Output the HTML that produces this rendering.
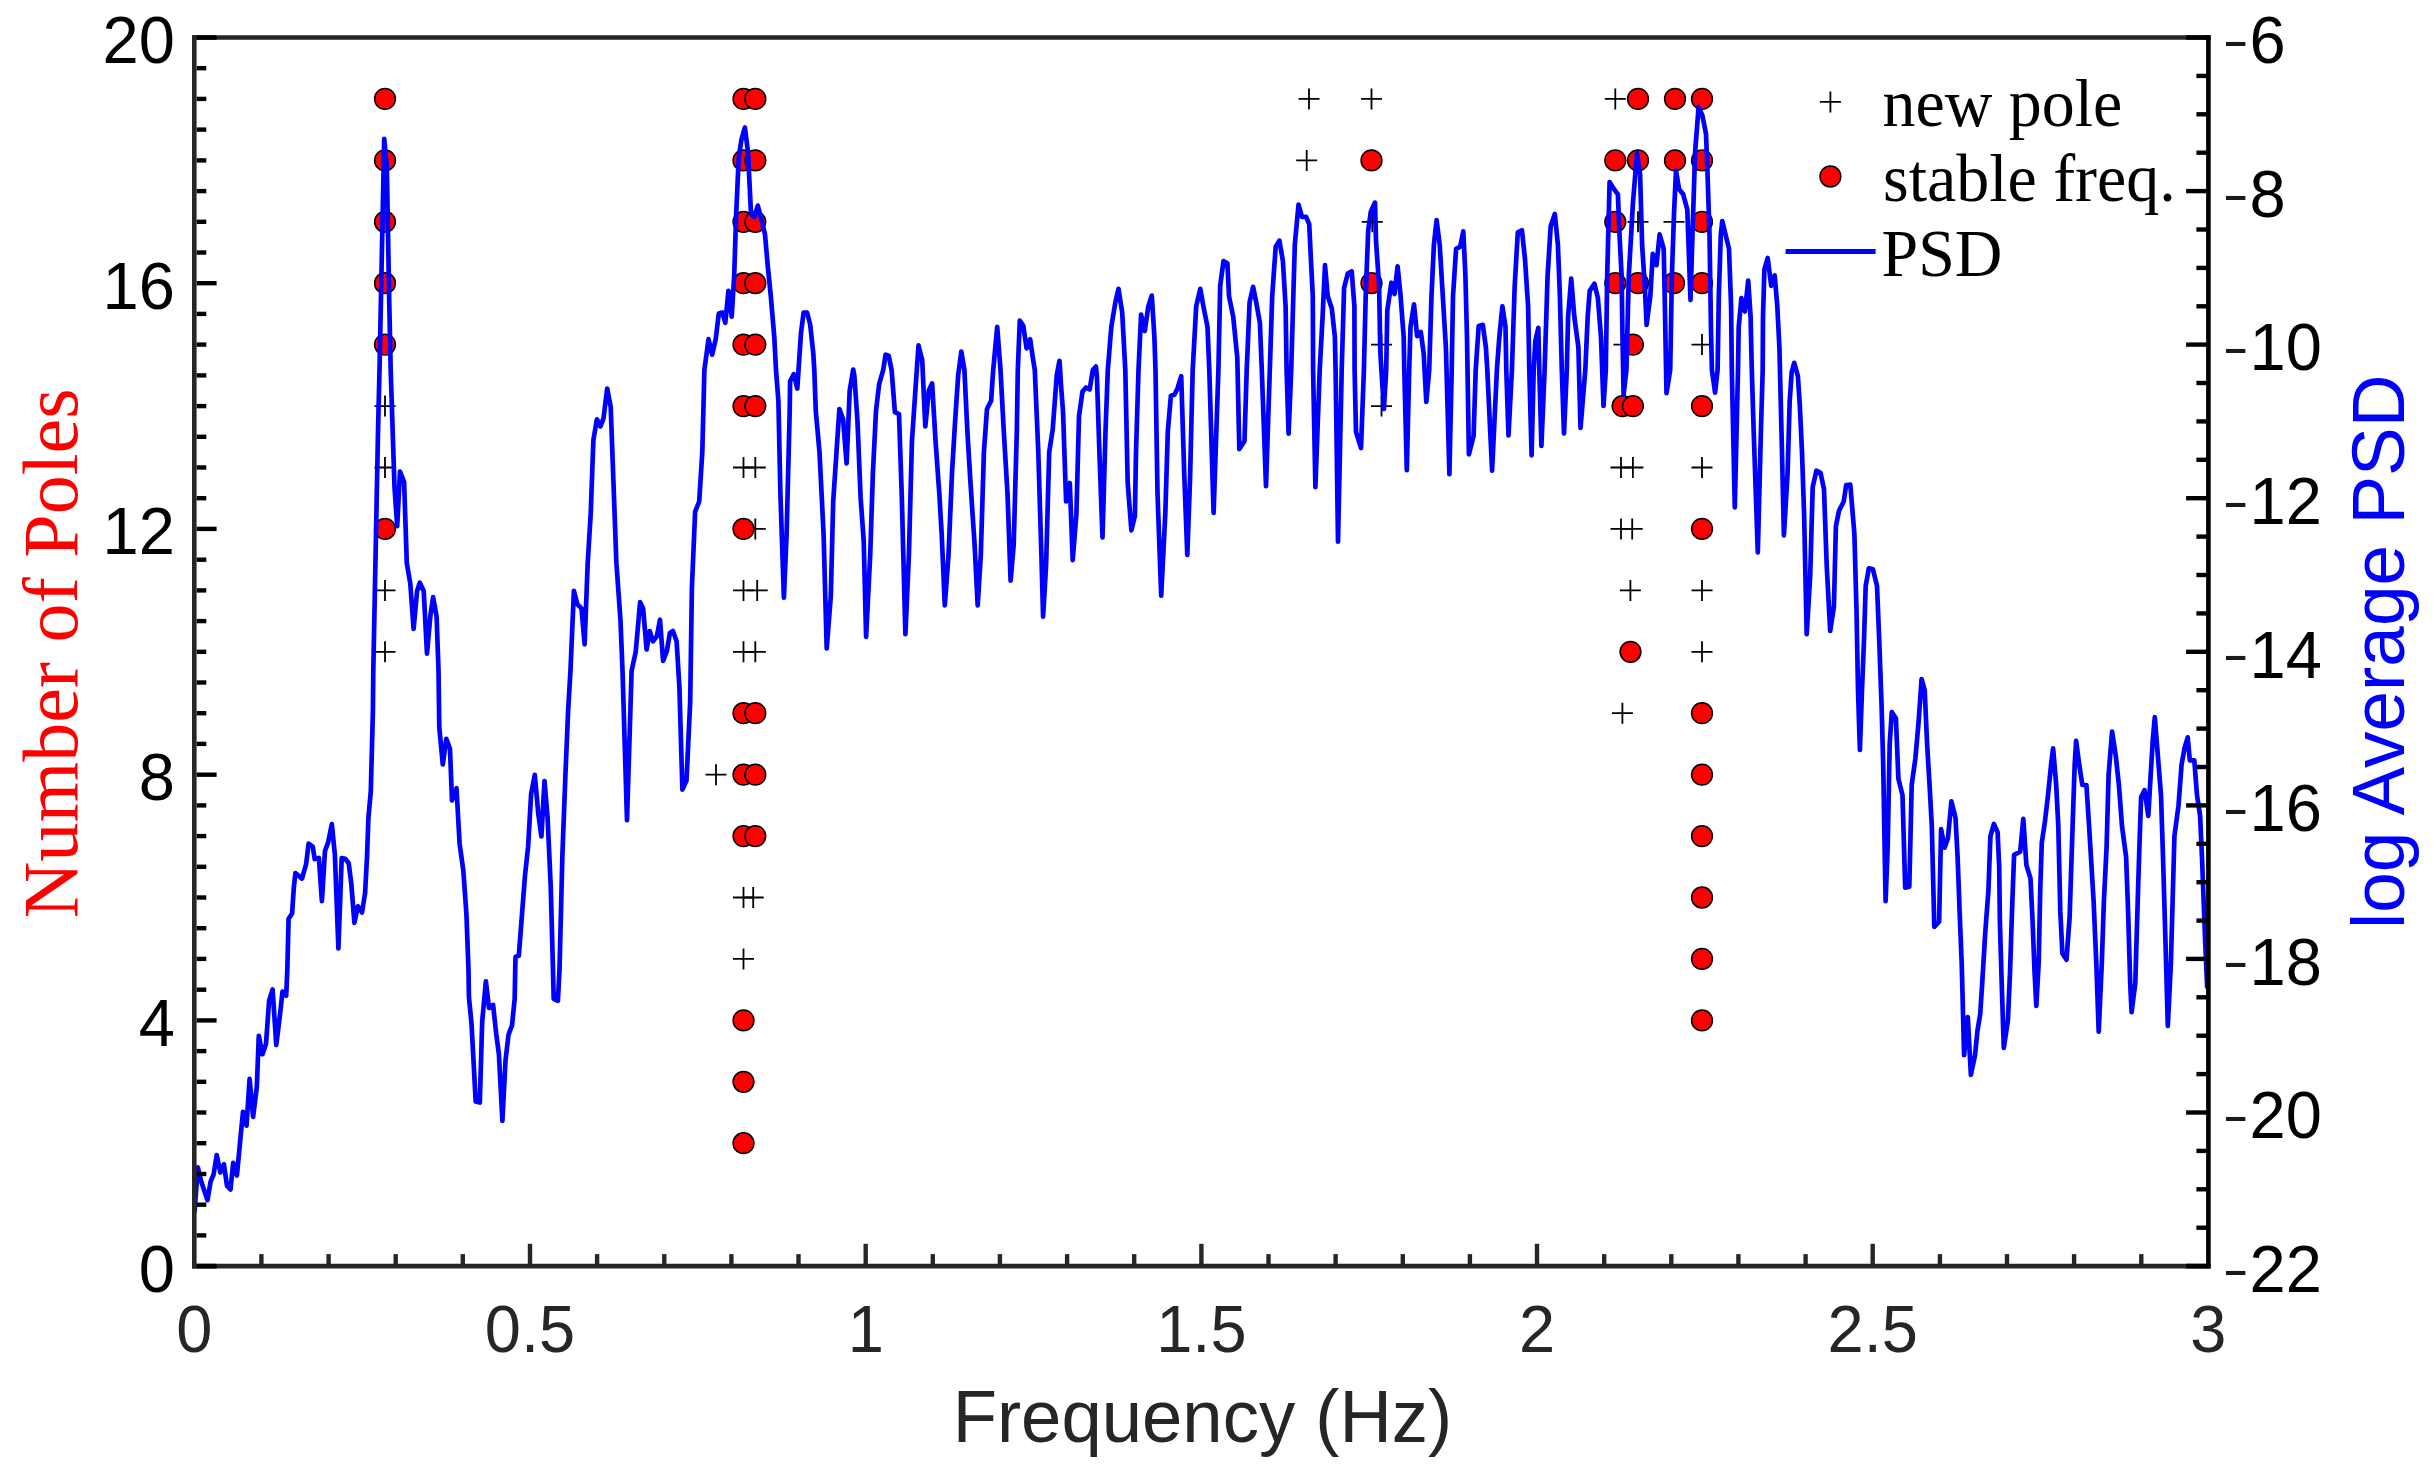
<!DOCTYPE html>
<html lang="en"><head><meta charset="utf-8"><title>Stabilization diagram</title>
<style>html,body{margin:0;padding:0;background:#fff;overflow:hidden}svg{display:block}.sans{font-family:"Liberation Sans",Arial,Helvetica,sans-serif}.serif{font-family:"Liberation Serif","Times New Roman",Times,serif}</style></head><body>
<svg width="2433" height="1477" viewBox="0 0 2433 1477">
<rect width="2433" height="1477" fill="#fff"/>
<g stroke="#000" stroke-width="1.8" fill="none">
<path d="M374.5 406.1H395.5M385.0 395.6V416.6"/>
<path d="M374.5 467.5H395.5M385.0 457.0V478.0"/>
<path d="M374.5 590.4H395.5M385.0 579.9V600.9"/>
<path d="M374.5 651.8H395.5M385.0 641.3V662.3"/>
<path d="M733.0 467.5H754.0M743.5 457.0V478.0"/>
<path d="M733.0 590.4H754.0M743.5 579.9V600.9"/>
<path d="M733.0 651.8H754.0M743.5 641.3V662.3"/>
<path d="M733.0 897.5H754.0M743.5 887.0V908.0"/>
<path d="M733.0 958.9H754.0M743.5 948.4V969.4"/>
<path d="M744.8 467.5H765.8M755.3 457.0V478.0"/>
<path d="M744.8 528.9H765.8M755.3 518.4V539.4"/>
<path d="M746.7 590.4H767.7M757.2 579.9V600.9"/>
<path d="M744.8 651.8H765.8M755.3 641.3V662.3"/>
<path d="M742.7 897.5H763.7M753.2 887.0V908.0"/>
<path d="M705.5 774.7H726.5M716.0 764.2V785.2"/>
<path d="M1298.5 98.9H1319.5M1309.0 88.4V109.4"/>
<path d="M1296.2 160.4H1317.2M1306.7 149.9V170.9"/>
<path d="M1361.0 98.9H1382.0M1371.5 88.4V109.4"/>
<path d="M1361.8 221.8H1382.8M1372.3 211.3V232.3"/>
<path d="M1371.0 344.6H1392.0M1381.5 334.1V355.1"/>
<path d="M1371.0 406.1H1392.0M1381.5 395.6V416.6"/>
<path d="M1604.8 98.9H1625.8M1615.3 88.4V109.4"/>
<path d="M1613.5 344.6H1634.5M1624.0 334.1V355.1"/>
<path d="M1610.5 467.5H1631.5M1621.0 457.0V478.0"/>
<path d="M1610.5 528.9H1631.5M1621.0 518.4V539.4"/>
<path d="M1611.9 713.2H1632.9M1622.4 702.7V723.7"/>
<path d="M1627.5 221.8H1648.5M1638.0 211.3V232.3"/>
<path d="M1622.4 467.5H1643.4M1632.9 457.0V478.0"/>
<path d="M1621.7 528.9H1642.7M1632.2 518.4V539.4"/>
<path d="M1619.9 590.4H1640.9M1630.4 579.9V600.9"/>
<path d="M1663.5 221.8H1684.5M1674.0 211.3V232.3"/>
<path d="M1691.5 344.6H1712.5M1702.0 334.1V355.1"/>
<path d="M1691.5 467.5H1712.5M1702.0 457.0V478.0"/>
<path d="M1691.5 590.4H1712.5M1702.0 579.9V600.9"/>
<path d="M1691.5 651.8H1712.5M1702.0 641.3V662.3"/>
</g>
<g stroke="#000" stroke-width="1.5" fill="#ff0000">
<circle cx="385.0" cy="98.9" r="10.4"/>
<circle cx="385.0" cy="160.4" r="10.4"/>
<circle cx="385.0" cy="221.8" r="10.4"/>
<circle cx="385.0" cy="283.2" r="10.4"/>
<circle cx="385.0" cy="344.6" r="10.4"/>
<circle cx="385.0" cy="528.9" r="10.4"/>
<circle cx="743.5" cy="98.9" r="10.4"/>
<circle cx="743.5" cy="160.4" r="10.4"/>
<circle cx="743.5" cy="221.8" r="10.4"/>
<circle cx="743.5" cy="283.2" r="10.4"/>
<circle cx="743.5" cy="344.6" r="10.4"/>
<circle cx="743.5" cy="406.1" r="10.4"/>
<circle cx="743.5" cy="528.9" r="10.4"/>
<circle cx="743.5" cy="713.2" r="10.4"/>
<circle cx="743.5" cy="774.7" r="10.4"/>
<circle cx="743.5" cy="836.1" r="10.4"/>
<circle cx="743.5" cy="1020.4" r="10.4"/>
<circle cx="743.5" cy="1081.8" r="10.4"/>
<circle cx="743.5" cy="1143.2" r="10.4"/>
<circle cx="755.3" cy="98.9" r="10.4"/>
<circle cx="755.3" cy="160.4" r="10.4"/>
<circle cx="755.3" cy="221.8" r="10.4"/>
<circle cx="755.3" cy="283.2" r="10.4"/>
<circle cx="755.3" cy="344.6" r="10.4"/>
<circle cx="755.3" cy="406.1" r="10.4"/>
<circle cx="755.3" cy="713.2" r="10.4"/>
<circle cx="755.3" cy="774.7" r="10.4"/>
<circle cx="755.3" cy="836.1" r="10.4"/>
<circle cx="1371.5" cy="160.4" r="10.4"/>
<circle cx="1371.5" cy="283.2" r="10.4"/>
<circle cx="1615.3" cy="160.4" r="10.4"/>
<circle cx="1615.3" cy="221.8" r="10.4"/>
<circle cx="1615.3" cy="283.2" r="10.4"/>
<circle cx="1622.6" cy="406.1" r="10.4"/>
<circle cx="1638.0" cy="98.9" r="10.4"/>
<circle cx="1638.0" cy="160.4" r="10.4"/>
<circle cx="1638.0" cy="283.2" r="10.4"/>
<circle cx="1632.9" cy="344.6" r="10.4"/>
<circle cx="1632.9" cy="406.1" r="10.4"/>
<circle cx="1630.5" cy="651.8" r="10.4"/>
<circle cx="1675.0" cy="98.9" r="10.4"/>
<circle cx="1675.0" cy="160.4" r="10.4"/>
<circle cx="1674.0" cy="283.2" r="10.4"/>
<circle cx="1702.0" cy="98.9" r="10.4"/>
<circle cx="1702.0" cy="160.4" r="10.4"/>
<circle cx="1702.0" cy="221.8" r="10.4"/>
<circle cx="1702.0" cy="283.2" r="10.4"/>
<circle cx="1702.0" cy="406.1" r="10.4"/>
<circle cx="1702.0" cy="528.9" r="10.4"/>
<circle cx="1702.0" cy="713.2" r="10.4"/>
<circle cx="1702.0" cy="774.7" r="10.4"/>
<circle cx="1702.0" cy="836.1" r="10.4"/>
<circle cx="1702.0" cy="897.5" r="10.4"/>
<circle cx="1702.0" cy="958.9" r="10.4"/>
<circle cx="1702.0" cy="1020.4" r="10.4"/>
</g>
<polyline points="194.5,1212.5 197.8,1167.3 201.3,1181.7 207.5,1200.2 210.6,1181.7 213.6,1174.5 216.7,1155.0 220.4,1172.4 223.9,1164.2 227.0,1185.8 230.5,1189.5 233.2,1162.8 236.9,1175.5 240.4,1138.5 243.0,1111.8 246.5,1125.6 249.6,1078.9 253.1,1116.9 256.8,1087.1 258.8,1035.8 262.5,1054.3 266.0,1044.0 269.1,1000.8 272.6,989.5 276.3,1045.0 280.4,1011.1 282.5,991.6 286.2,995.7 287.3,970.0 288.6,918.7 292.1,913.5 293.8,887.8 295.4,873.0 302.0,878.6 306.1,864.2 308.6,843.7 312.7,846.7 314.7,859.1 318.9,858.0 321.9,901.2 325.0,850.8 328.1,842.6 331.8,824.1 334.9,855.0 338.4,948.5 341.7,858.0 345.2,858.7 348.7,863.2 351.3,883.7 354.4,922.8 357.9,906.3 362.0,912.5 365.1,893.0 367.1,855.0 368.4,818.0 370.8,791.2 372.9,711.1 373.3,670.0 376.0,534.4 378.0,431.7 379.5,370.0 384.2,138.8 386.8,166.0 389.2,300.0 390.7,370.0 391.4,392.0 394.5,487.1 397.2,526.2 400.0,471.7 404.1,482.0 406.8,563.2 410.3,583.7 413.6,628.9 417.1,590.9 419.8,582.7 423.7,590.9 427.0,653.6 430.4,615.6 433.1,597.1 436.6,616.6 438.5,670.0 439.3,727.5 442.8,764.5 446.3,738.8 450.0,749.1 452.0,800.5 456.5,788.2 459.6,843.7 463.3,870.4 466.4,913.5 468.5,970.0 468.9,996.7 471.5,1023.4 475.7,1101.5 479.8,1102.6 482.2,1021.4 485.9,981.3 489.0,1008.0 493.1,1005.0 496.2,1033.7 498.9,1054.3 502.4,1121.0 505.5,1060.4 508.5,1034.7 512.0,1025.5 514.7,998.8 515.3,965.0 515.6,956.7 518.8,955.7 521.5,920.7 525.0,875.5 528.1,846.7 531.1,794.3 534.8,774.8 538.3,813.9 541.4,836.5 544.5,781.0 547.6,818.0 550.7,885.8 553.0,970.0 553.7,998.8 557.9,1000.8 559.5,970.0 562.4,855.0 565.5,772.8 568.1,711.1 570.5,670.0 573.9,590.9 577.4,604.3 581.5,608.4 584.6,644.3 587.7,563.2 590.7,513.9 593.4,439.9 596.9,419.3 600.4,426.5 603.5,418.3 607.2,388.5 610.7,407.0 613.7,489.2 616.4,563.2 620.5,620.7 622.5,670.0 627.0,820.1 631.6,670.8 635.7,652.0 640.1,602.2 643.1,608.4 646.6,649.5 649.7,631.0 653.0,641.3 656.9,636.1 660.0,619.7 663.1,660.8 666.8,651.5 669.9,633.0 672.9,631.0 676.6,641.3 679.4,687.0 682.4,789.6 686.5,780.5 690.2,701.3 691.9,588.0 695.1,511.8 699.2,501.5 702.3,452.2 704.4,370.0 708.5,339.2 712.2,354.6 715.7,339.2 718.8,313.5 722.3,312.5 725.3,322.8 728.4,290.9 731.7,316.6 734.2,275.5 736.2,213.9 738.7,158.4 741.4,139.9 744.9,127.5 748.0,152.2 751.0,213.9 754.3,216.9 757.8,205.6 761.5,220.0 765.0,234.4 767.7,265.2 770.8,296.1 774.3,337.2 776.0,370.0 778.4,400.8 780.4,493.3 783.9,597.7 786.6,534.4 789.7,411.1 790.1,381.3 793.8,374.1 797.3,388.5 798.5,370.0 801.0,333.0 803.6,312.5 807.1,312.5 810.2,324.8 813.3,353.6 814.3,370.0 815.8,411.1 819.5,452.2 823.6,534.4 826.7,648.5 830.8,596.1 833.2,501.5 836.5,452.2 839.4,409.0 843.1,419.3 846.6,463.5 849.7,390.6 853.2,369.5 854.4,376.2 857.5,421.4 860.6,497.4 863.7,540.6 866.1,636.8 870.2,555.0 872.9,472.8 876.0,411.1 879.1,384.4 883.2,370.0 885.6,354.6 888.7,355.7 891.6,370.0 894.9,412.1 899.0,414.2 901.7,493.3 905.4,634.1 908.9,555.0 911.9,441.9 916.1,380.0 918.5,345.4 922.2,360.0 925.3,426.5 928.8,390.6 932.1,383.4 935.6,441.9 939.3,493.3 941.7,534.4 944.8,605.3 948.5,555.0 952.0,472.8 955.1,421.4 958.2,375.0 961.3,351.5 964.4,370.0 967.4,431.7 970.5,483.0 974.6,544.7 977.7,605.3 980.8,555.0 983.9,452.2 987.0,409.0 991.1,400.8 993.2,370.0 997.2,326.9 1000.5,370.0 1003.8,431.7 1007.5,493.3 1010.6,580.6 1013.7,544.7 1016.8,431.7 1017.8,370.0 1019.8,320.7 1023.3,325.9 1026.6,348.5 1030.1,339.2 1032.8,357.7 1034.8,370.0 1038.3,452.2 1041.4,555.0 1043.1,616.6 1046.1,565.2 1049.2,452.2 1052.7,429.6 1056.8,375.0 1059.5,360.8 1061.0,385.0 1063.0,411.1 1066.1,501.5 1069.8,483.0 1072.7,560.1 1076.4,513.9 1079.0,416.2 1082.5,391.6 1086.0,387.5 1089.7,389.5 1092.8,370.0 1095.9,366.5 1096.9,376.2 1099.4,452.2 1102.5,537.5 1105.5,431.7 1107.8,370.0 1111.3,326.9 1115.4,302.2 1118.5,288.9 1122.2,312.5 1125.3,370.0 1127.7,483.0 1131.4,530.3 1134.9,515.9 1136.0,452.2 1138.5,370.0 1141.1,314.6 1144.8,331.0 1148.3,306.3 1151.8,295.6 1154.4,337.2 1155.5,370.0 1157.5,493.3 1161.2,595.6 1165.3,513.9 1167.8,431.7 1170.9,395.7 1174.4,394.7 1177.5,388.5 1181.2,376.2 1184.2,472.8 1187.3,555.0 1190.0,480.0 1192.7,370.0 1196.2,306.3 1200.3,288.9 1203.4,306.3 1207.5,326.9 1209.3,370.0 1213.6,512.8 1218.4,370.0 1220.2,285.8 1223.5,261.1 1227.4,263.2 1229.0,296.1 1233.2,316.6 1237.3,357.7 1239.3,449.1 1244.5,440.9 1246.7,370.0 1249.6,302.2 1253.1,286.8 1256.2,302.2 1259.9,322.8 1261.8,370.0 1266.0,486.1 1269.8,370.0 1272.2,296.1 1275.7,246.7 1279.4,240.6 1282.9,261.1 1285.6,306.3 1286.6,370.0 1288.6,433.7 1291.2,370.0 1294.8,244.7 1298.5,204.6 1302.0,216.9 1306.1,216.9 1309.2,224.1 1311.2,265.2 1312.8,296.1 1313.1,370.0 1315.4,487.1 1319.7,370.0 1322.6,316.6 1325.0,265.2 1327.7,296.1 1331.8,308.4 1334.9,337.2 1335.6,370.0 1338.0,541.6 1341.7,370.0 1344.1,287.8 1347.8,273.5 1351.7,271.4 1354.4,306.3 1354.6,370.0 1356.0,431.7 1361.0,448.1 1363.9,370.0 1365.7,296.1 1368.2,230.3 1370.8,211.8 1375.0,202.6 1376.0,240.6 1379.1,285.8 1380.3,352.0 1383.9,409.0 1386.2,370.0 1387.3,310.4 1391.4,282.7 1394.5,294.0 1397.6,266.3 1400.6,296.1 1403.7,337.2 1404.3,370.0 1406.8,470.1 1409.2,370.0 1410.5,326.9 1414.0,304.3 1417.1,336.1 1420.8,332.0 1423.7,353.6 1426.3,401.9 1429.2,370.0 1431.5,296.1 1433.9,244.7 1436.6,220.0 1439.7,244.7 1442.8,296.1 1445.9,347.4 1449.4,474.2 1451.7,370.0 1453.0,296.1 1456.1,248.8 1460.2,246.7 1463.3,231.3 1465.4,275.5 1467.0,337.2 1468.9,454.3 1473.6,435.8 1475.7,370.0 1478.7,325.9 1482.8,324.8 1485.9,347.4 1487.3,370.0 1492.1,470.7 1496.9,370.0 1499.3,337.2 1502.4,306.3 1505.5,326.9 1506.3,370.0 1508.5,435.4 1511.9,370.0 1514.7,285.8 1517.8,232.3 1521.9,230.3 1525.0,259.1 1528.1,306.3 1529.3,370.0 1531.6,455.3 1533.7,370.0 1535.3,341.3 1538.3,327.9 1539.3,370.0 1541.4,446.0 1544.6,370.0 1547.6,275.5 1550.7,226.2 1554.8,213.9 1557.9,244.7 1559.9,296.1 1561.8,370.0 1564.0,433.3 1566.8,370.0 1568.1,316.6 1571.2,278.6 1574.3,316.6 1578.4,347.4 1580.5,428.0 1585.3,370.0 1587.7,316.6 1589.7,290.9 1594.4,283.7 1597.9,298.1 1601.0,337.2 1603.5,406.0 1605.8,370.0 1607.2,275.5 1609.6,182.0 1613.3,188.2 1617.9,194.3 1619.5,234.4 1621.6,275.5 1622.5,337.2 1623.6,394.7 1626.4,370.0 1628.8,275.5 1632.9,203.6 1637.0,153.2 1640.1,174.8 1642.1,244.7 1644.8,285.8 1646.6,324.8 1650.3,296.1 1652.8,253.9 1656.5,265.2 1659.6,234.4 1663.7,248.8 1664.7,296.1 1666.5,393.2 1670.2,370.0 1671.9,275.5 1674.0,213.9 1676.0,170.7 1679.1,189.2 1683.2,194.3 1687.3,209.7 1690.5,300.0 1692.5,234.0 1695.1,152.2 1698.6,107.0 1702.3,115.2 1706.0,133.7 1707.5,172.8 1709.5,234.4 1711.0,330.0 1711.9,370.0 1715.1,392.6 1717.6,370.0 1718.8,296.1 1720.8,234.4 1722.3,221.0 1726.0,236.5 1729.0,248.8 1731.1,306.3 1731.8,370.0 1734.8,507.3 1738.0,370.0 1738.7,326.9 1741.4,298.1 1744.9,311.5 1748.2,280.6 1750.6,316.6 1751.8,370.0 1753.7,431.7 1757.8,552.5 1760.9,431.7 1762.7,370.0 1763.0,316.6 1764.4,269.3 1767.7,258.0 1771.2,285.8 1774.7,275.5 1777.3,306.3 1779.4,347.4 1781.5,431.7 1783.9,535.4 1787.6,472.8 1789.7,400.8 1791.7,372.0 1794.2,362.8 1797.9,376.2 1799.9,407.0 1802.0,452.2 1804.1,513.9 1806.7,634.1 1810.2,575.5 1812.7,487.1 1816.4,470.7 1820.5,472.8 1824.0,489.2 1826.7,565.2 1830.2,631.0 1833.9,606.3 1835.9,526.2 1839.0,510.8 1843.7,501.5 1846.2,485.1 1850.3,484.7 1852.4,509.7 1854.4,534.4 1856.5,610.0 1858.0,690.0 1859.9,750.0 1862.0,690.0 1864.0,640.0 1865.7,585.8 1868.8,568.3 1872.9,569.3 1877.0,585.8 1879.1,637.2 1881.5,702.8 1883.2,764.4 1884.6,846.6 1885.6,901.1 1887.7,846.6 1889.7,743.9 1891.8,712.0 1895.9,718.2 1898.4,778.8 1902.5,795.2 1905.2,887.7 1909.3,886.7 1911.7,785.0 1915.4,758.2 1918.5,723.3 1921.6,679.1 1924.7,690.4 1927.1,743.9 1929.8,789.1 1931.8,826.0 1934.3,926.8 1939.1,921.7 1941.1,829.1 1944.6,847.6 1947.9,838.4 1951.4,801.4 1955.5,817.8 1957.6,856.9 1959.6,911.4 1961.7,962.8 1964.1,1055.2 1967.8,1017.2 1970.9,1074.8 1975.0,1055.2 1977.5,1030.6 1980.2,1014.1 1982.2,983.3 1985.3,931.9 1988.4,890.8 1990.4,836.3 1993.9,824.0 1997.6,832.2 1999.2,867.2 1999.9,921.7 2001.7,983.3 2003.8,1048.0 2007.9,1020.3 2010.0,973.0 2012.0,911.4 2014.1,854.8 2020.2,851.7 2023.3,818.9 2026.4,865.1 2030.5,878.5 2032.6,921.7 2034.6,973.0 2036.3,1005.9 2038.7,962.8 2040.2,890.8 2041.8,842.5 2044.9,821.9 2048.0,795.2 2051.1,764.4 2053.1,748.4 2056.2,785.0 2058.3,826.1 2060.3,911.4 2062.4,953.5 2066.5,959.7 2069.6,917.5 2072.6,826.1 2074.7,764.4 2076.1,740.8 2079.2,764.4 2082.3,785.0 2086.4,785.0 2089.1,826.1 2093.6,901.1 2096.3,962.8 2098.7,1031.6 2101.8,962.8 2103.9,901.1 2106.6,846.6 2108.6,774.7 2112.1,731.5 2115.8,756.2 2118.9,785.0 2122.0,826.1 2126.1,856.9 2128.1,911.4 2130.2,983.3 2131.6,1012.1 2135.3,983.3 2137.4,911.4 2139.4,846.6 2141.1,797.3 2144.6,790.1 2148.3,815.8 2150.7,774.7 2152.8,739.7 2154.8,717.1 2157.9,756.2 2161.0,795.2 2163.1,860.0 2165.5,942.2 2167.8,1026.0 2170.9,962.8 2172.9,890.8 2174.4,836.3 2178.5,805.5 2181.6,764.4 2184.6,748.0 2187.7,737.3 2189.8,760.3 2194.3,760.3 2197.0,795.2 2200.1,815.8 2202.1,860.0 2205.2,942.2 2207.2,988.4" fill="none" stroke="#0000ff" stroke-width="4.7" stroke-linejoin="round" stroke-linecap="butt"/>
<g stroke="#000" stroke-width="4.4">
<path d="M196.60000000000002 1235.4h9.7"/>
<path d="M196.60000000000002 1204.7h9.7"/>
<path d="M196.60000000000002 1174.0h9.7"/>
<path d="M196.60000000000002 1143.2h9.7"/>
<path d="M196.60000000000002 1112.5h9.7"/>
<path d="M196.60000000000002 1081.8h9.7"/>
<path d="M196.60000000000002 1051.1h9.7"/>
<path d="M196.60000000000002 1020.4h20.0"/>
<path d="M196.60000000000002 989.7h9.7"/>
<path d="M196.60000000000002 958.9h9.7"/>
<path d="M196.60000000000002 928.2h9.7"/>
<path d="M196.60000000000002 897.5h9.7"/>
<path d="M196.60000000000002 866.8h9.7"/>
<path d="M196.60000000000002 836.1h9.7"/>
<path d="M196.60000000000002 805.4h9.7"/>
<path d="M196.60000000000002 774.7h20.0"/>
<path d="M196.60000000000002 743.9h9.7"/>
<path d="M196.60000000000002 713.2h9.7"/>
<path d="M196.60000000000002 682.5h9.7"/>
<path d="M196.60000000000002 651.8h9.7"/>
<path d="M196.60000000000002 621.1h9.7"/>
<path d="M196.60000000000002 590.4h9.7"/>
<path d="M196.60000000000002 559.7h9.7"/>
<path d="M196.60000000000002 528.9h20.0"/>
<path d="M196.60000000000002 498.2h9.7"/>
<path d="M196.60000000000002 467.5h9.7"/>
<path d="M196.60000000000002 436.8h9.7"/>
<path d="M196.60000000000002 406.1h9.7"/>
<path d="M196.60000000000002 375.4h9.7"/>
<path d="M196.60000000000002 344.6h9.7"/>
<path d="M196.60000000000002 313.9h9.7"/>
<path d="M196.60000000000002 283.2h20.0"/>
<path d="M196.60000000000002 252.5h9.7"/>
<path d="M196.60000000000002 221.8h9.7"/>
<path d="M196.60000000000002 191.1h9.7"/>
<path d="M196.60000000000002 160.4h9.7"/>
<path d="M196.60000000000002 129.6h9.7"/>
<path d="M196.60000000000002 98.9h9.7"/>
<path d="M196.60000000000002 68.2h9.7"/>
<path d="M2208.4 1227.7h-12"/>
<path d="M2208.4 1189.3h-12"/>
<path d="M2208.4 1150.9h-12"/>
<path d="M2208.4 1112.5h-22.3"/>
<path d="M2208.4 1074.1h-12"/>
<path d="M2208.4 1035.7h-12"/>
<path d="M2208.4 997.3h-12"/>
<path d="M2208.4 958.9h-22.3"/>
<path d="M2208.4 920.6h-12"/>
<path d="M2208.4 882.2h-12"/>
<path d="M2208.4 843.8h-12"/>
<path d="M2208.4 805.4h-22.3"/>
<path d="M2208.4 767.0h-12"/>
<path d="M2208.4 728.6h-12"/>
<path d="M2208.4 690.2h-12"/>
<path d="M2208.4 651.8h-22.3"/>
<path d="M2208.4 613.4h-12"/>
<path d="M2208.4 575.0h-12"/>
<path d="M2208.4 536.6h-12"/>
<path d="M2208.4 498.2h-22.3"/>
<path d="M2208.4 459.8h-12"/>
<path d="M2208.4 421.4h-12"/>
<path d="M2208.4 383.0h-12"/>
<path d="M2208.4 344.6h-22.3"/>
<path d="M2208.4 306.3h-12"/>
<path d="M2208.4 267.9h-12"/>
<path d="M2208.4 229.5h-12"/>
<path d="M2208.4 191.1h-22.3"/>
<path d="M2208.4 152.7h-12"/>
<path d="M2208.4 114.3h-12"/>
<path d="M2208.4 75.9h-12"/>
</g>
<g stroke="#262626" stroke-width="4.4">
<path d="M261.4 1266.1v-12"/>
<path d="M328.6 1266.1v-12"/>
<path d="M395.7 1266.1v-12"/>
<path d="M462.8 1266.1v-12"/>
<path d="M530.0 1266.1v-22.3"/>
<path d="M597.1 1266.1v-12"/>
<path d="M664.3 1266.1v-12"/>
<path d="M731.4 1266.1v-12"/>
<path d="M798.5 1266.1v-12"/>
<path d="M865.7 1266.1v-22.3"/>
<path d="M932.8 1266.1v-12"/>
<path d="M999.9 1266.1v-12"/>
<path d="M1067.1 1266.1v-12"/>
<path d="M1134.2 1266.1v-12"/>
<path d="M1201.4 1266.1v-22.3"/>
<path d="M1268.5 1266.1v-12"/>
<path d="M1335.6 1266.1v-12"/>
<path d="M1402.8 1266.1v-12"/>
<path d="M1469.9 1266.1v-12"/>
<path d="M1537.0 1266.1v-22.3"/>
<path d="M1604.2 1266.1v-12"/>
<path d="M1671.3 1266.1v-12"/>
<path d="M1738.4 1266.1v-12"/>
<path d="M1805.6 1266.1v-12"/>
<path d="M1872.7 1266.1v-22.3"/>
<path d="M1939.9 1266.1v-12"/>
<path d="M2007.0 1266.1v-12"/>
<path d="M2074.1 1266.1v-12"/>
<path d="M2141.3 1266.1v-12"/>
</g>
<path d="M192.0 37.5H2210.7000000000003M192.0 1266.1H2210.7000000000003" stroke="#262626" stroke-width="4.6" fill="none"/>
<path d="M194.3 35.2V1268.3999999999999" stroke="#262626" stroke-width="4.6" fill="none"/>
<path d="M2208.4 35.2V1268.3999999999999" stroke="#000" stroke-width="4.6" fill="none"/>
<path d="M196.60000000000002 1266.1h20M196.60000000000002 37.5h20M2208.4 1266.1h-22.3M2208.4 37.5h-22.3" stroke="#000" stroke-width="4.6"/>
<text class="sans" font-size="65" fill="#000" text-anchor="end" transform="translate(174.8 1291.5) scale(1 1.035)">0</text>
<text class="sans" font-size="65" fill="#000" text-anchor="end" transform="translate(174.8 1045.8) scale(1 1.035)">4</text>
<text class="sans" font-size="65" fill="#000" text-anchor="end" transform="translate(174.8 800.1) scale(1 1.035)">8</text>
<text class="sans" font-size="65" fill="#000" text-anchor="end" transform="translate(174.8 554.3) scale(1 1.035)">12</text>
<text class="sans" font-size="65" fill="#000" text-anchor="end" transform="translate(174.8 308.6) scale(1 1.035)">16</text>
<text class="sans" font-size="65" fill="#000" text-anchor="end" transform="translate(174.8 62.9) scale(1 1.035)">20</text>
<text class="sans" font-size="65" fill="#000" text-anchor="start" transform="translate(2249.5 1291.9) scale(1 1.035)">22</text>
<text class="sans" font-size="65" fill="#1a1a1a" text-anchor="start" transform="translate(2222.6 1286.5) scale(1.22 0.8)">-</text>
<text class="sans" font-size="65" fill="#000" text-anchor="start" transform="translate(2249.5 1138.3) scale(1 1.035)">20</text>
<text class="sans" font-size="65" fill="#1a1a1a" text-anchor="start" transform="translate(2222.6 1132.9) scale(1.22 0.8)">-</text>
<text class="sans" font-size="65" fill="#000" text-anchor="start" transform="translate(2249.5 984.7) scale(1 1.035)">18</text>
<text class="sans" font-size="65" fill="#1a1a1a" text-anchor="start" transform="translate(2222.6 979.3) scale(1.22 0.8)">-</text>
<text class="sans" font-size="65" fill="#000" text-anchor="start" transform="translate(2249.5 831.2) scale(1 1.035)">16</text>
<text class="sans" font-size="65" fill="#1a1a1a" text-anchor="start" transform="translate(2222.6 825.8) scale(1.22 0.8)">-</text>
<text class="sans" font-size="65" fill="#000" text-anchor="start" transform="translate(2249.5 677.6) scale(1 1.035)">14</text>
<text class="sans" font-size="65" fill="#1a1a1a" text-anchor="start" transform="translate(2222.6 672.2) scale(1.22 0.8)">-</text>
<text class="sans" font-size="65" fill="#000" text-anchor="start" transform="translate(2249.5 524.0) scale(1 1.035)">12</text>
<text class="sans" font-size="65" fill="#1a1a1a" text-anchor="start" transform="translate(2222.6 518.6) scale(1.22 0.8)">-</text>
<text class="sans" font-size="65" fill="#000" text-anchor="start" transform="translate(2249.5 370.4) scale(1 1.035)">10</text>
<text class="sans" font-size="65" fill="#1a1a1a" text-anchor="start" transform="translate(2222.6 365.1) scale(1.22 0.8)">-</text>
<text class="sans" font-size="65" fill="#000" text-anchor="start" transform="translate(2249.5 216.9) scale(1 1.035)">8</text>
<text class="sans" font-size="65" fill="#1a1a1a" text-anchor="start" transform="translate(2222.6 211.5) scale(1.22 0.8)">-</text>
<text class="sans" font-size="65" fill="#000" text-anchor="start" transform="translate(2249.5 63.3) scale(1 1.035)">6</text>
<text class="sans" font-size="65" fill="#1a1a1a" text-anchor="start" transform="translate(2222.6 57.9) scale(1.22 0.8)">-</text>
<text class="sans" font-size="65" fill="#262626" text-anchor="middle" transform="translate(194.3 1351.8) scale(1 1.035)">0</text>
<text class="sans" font-size="65" fill="#262626" text-anchor="middle" transform="translate(530.0 1351.8) scale(1 1.035)">0.5</text>
<text class="sans" font-size="65" fill="#262626" text-anchor="middle" transform="translate(865.7 1351.8) scale(1 1.035)">1</text>
<text class="sans" font-size="65" fill="#262626" text-anchor="middle" transform="translate(1201.4 1351.8) scale(1 1.035)">1.5</text>
<text class="sans" font-size="65" fill="#262626" text-anchor="middle" transform="translate(1537.0 1351.8) scale(1 1.035)">2</text>
<text class="sans" font-size="65" fill="#262626" text-anchor="middle" transform="translate(1872.7 1351.8) scale(1 1.035)">2.5</text>
<text class="sans" font-size="65" fill="#262626" text-anchor="middle" transform="translate(2208.4 1351.8) scale(1 1.035)">3</text>
<text class="sans" font-size="72.5" fill="#262626" text-anchor="middle" transform="translate(1202.4 1442.0) scale(1 1.01)">Frequency (Hz)</text>
<text class="serif" font-size="78.2" fill="#ff0000" text-anchor="middle" transform="translate(77.4 653.2) rotate(-90)">Number of Poles</text>
<text class="sans" font-size="73" fill="#0000ff" text-anchor="middle" transform="translate(2403.5 651.8) rotate(-90) scale(1 1.015)">log Average PSD</text>
<g>
<path d="M1819.9 101.9H1840.9M1830.4 91.4V112.4" stroke="#000" stroke-width="1.8" fill="none"/>
<circle cx="1830.4" cy="176.5" r="10.4" fill="#ff0000" stroke="#000" stroke-width="1.5"/>
<path d="M1785.6 251.5H1875.6" stroke="#0000ff" stroke-width="4.8" fill="none"/>
<text class="serif" font-size="65.9" fill="#000" transform="translate(1882.5 125.5) scale(1 1.025)">new pole</text>
<text class="serif" font-size="65.9" fill="#000" transform="translate(1883 200.5) scale(1 1.025)">stable freq.</text>
<text class="serif" font-size="65.9" fill="#000" transform="translate(1881.5 275.5) scale(1 1.025)">PSD</text>
</g>
</svg></body></html>
